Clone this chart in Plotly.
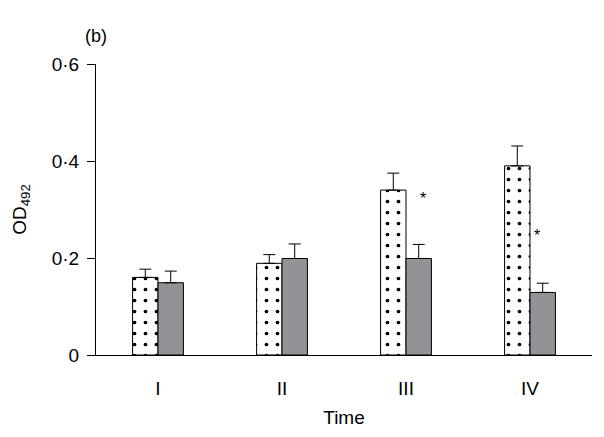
import plotly.graph_objects as go

categories = ["I", "II", "III", "IV"]
dotted_vals = [0.160, 0.189, 0.340, 0.390]
dotted_err = [0.017, 0.018, 0.035, 0.041]
gray_vals = [0.149, 0.199, 0.199, 0.129]
gray_err = [0.024, 0.030, 0.029, 0.019]
star_cats = ["III", "IV"]
star_y = [0.322, 0.247]
y_ticks = [0, 0.2, 0.4, 0.6]
y_tick_labels = ["0", "0·2", "0·4", "0·6"]

font = "Liberation Sans, Arial, sans-serif"
star_xshift = [17, 7]

fig = go.Figure()
fig.add_trace(go.Bar(
    x=categories, y=dotted_vals,
    error_y=dict(type="data", array=dotted_err, arrayminus=[0]*4, symmetric=False,
                 color="black", thickness=1, width=6),
    marker=dict(color="white", line=dict(color="black", width=1),
                pattern=dict(shape=".", fgcolor="black", bgcolor="white", fgopacity=1,
                             fillmode="replace", size=11, solidity=0.09)),
    showlegend=False,
))
fig.add_trace(go.Bar(
    x=categories, y=gray_vals,
    error_y=dict(type="data", array=gray_err, arrayminus=[0]*4, symmetric=False,
                 color="black", thickness=1, width=6),
    marker=dict(color="#939397", line=dict(color="black", width=1)),
    showlegend=False,
))
for c, yv, xs in zip(star_cats, star_y, star_xshift):
    fig.add_annotation(x=c, y=yv, text="*", showarrow=False, xshift=xs,
                       font=dict(size=16, color="black", family=font))

fig.add_annotation(x=0, y=1.055, xref="paper", yref="paper", text="(b)", showarrow=False,
                   xanchor="center", yanchor="bottom", xshift=0,
                   font=dict(size=18, color="black", family=font))

fig.update_layout(
    width=604, height=437,
    margin=dict(l=96, r=12, t=64, b=82),
    plot_bgcolor="white", paper_bgcolor="white",
    barmode="group", bargap=0.59, bargroupgap=0.0,
    font=dict(family=font, color="black", size=19),
    xaxis=dict(showline=True, linecolor="black", linewidth=1, ticks="", automargin=False,
               tickfont=dict(size=19), range=[-0.5, 3.5], ticklabelstandoff=16,
               title=dict(text="Time", font=dict(size=19), standoff=12)),
    yaxis=dict(showline=True, linecolor="black", linewidth=1, ticks="outside", ticklen=8,
               tickcolor="black", range=[0, 0.6], tickvals=y_ticks, ticktext=y_tick_labels,
               showgrid=False, zeroline=False, tickfont=dict(size=19), automargin=False,
               ticklabelstandoff=4,
               title=dict(text="OD<sub>492</sub>", font=dict(size=19), standoff=20)),
)
fig.write_html("out.html", config={"displayModeBar": False},
               post_script="document.body.style.margin='0';")
